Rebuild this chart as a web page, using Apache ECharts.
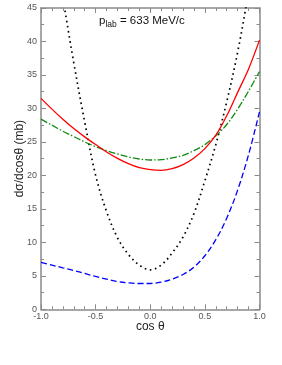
<!DOCTYPE html>
<html>
<head>
<meta charset="utf-8">
<script src="https://cdn.jsdelivr.net/npm/echarts@6/dist/echarts.min.js"></script>
<style>
html,body{margin:0;padding:0;background:#fff;}
#chart{width:282px;height:365px;}
</style>
</head>
<body>
<div id="chart"></div>
<script>
var cosTheta = [-1.0,-0.9,-0.8,-0.7,-0.6,-0.5,-0.4,-0.3,-0.2,-0.1,0.0,0.1,0.2,0.3,0.4,0.5,0.6,0.7,0.8,0.9,1.0];
var redSolid   = [31.5,29.9,28.4,27.0,25.75,24.6,23.5,22.55,21.75,21.15,20.85,20.75,21.0,21.6,22.6,24.0,26.0,28.9,32.4,35.9,40.2];
var greenDashDot = [28.4,27.5,26.6,25.8,25.0,24.3,23.7,23.2,22.75,22.45,22.3,22.35,22.6,23.0,23.7,24.6,25.9,27.6,29.9,32.6,35.5];
var blackDotted = [70,56,46.5,36.8,28.0,20.0,14.6,10.7,8.2,6.6,5.9,6.6,8.4,10.8,14.3,19.2,24.6,31.0,38.4,47.5,58];
var blueDashed = [7.0,6.6,6.2,5.8,5.35,4.9,4.5,4.15,3.95,3.85,3.85,4.05,4.5,5.2,6.3,8.0,10.4,13.6,17.8,23.1,29.5];
var xTicks = [-1.0,-0.5,0.0,0.5,1.0];
var yTicks = [0,5,10,15,20,25,30,35,40,45];

function pairs(vals){ return cosTheta.map(function(c,i){ return [c, vals[i]]; }); }

var axisColor = '#8a8a8a';
var labelColor = '#555';
var font = 'Liberation Sans, Arial, sans-serif';

function xAx(pos, showLabel){
  return {
    type:'value', position:pos, min:-1, max:1, interval:0.5,
    axisLine:{show:true, onZero:false, lineStyle:{color:axisColor, width:1.5}},
    axisTick:{show:true, inside:true, length:5, lineStyle:{color:axisColor}},
    minorTick:{show:true, splitNumber:5, length:3, lineStyle:{color:axisColor}},
    splitLine:{show:false},
    axisLabel:{show:showLabel, color:labelColor, fontSize:9, fontFamily:font, margin:3,
      formatter:function(v){ return v.toFixed(1); }},
    name: showLabel ? 'cos θ' : '', nameLocation:'middle', nameGap:11, nameMoveOverlap:false,
    nameTextStyle:{color:'#222', fontSize:12, fontFamily:font}
  };
}
function yAx(pos, showLabel){
  return {
    type:'value', position:pos, min:0, max:45, interval:5,
    axisLine:{show:true, onZero:false, lineStyle:{color:axisColor, width:1.5}},
    axisTick:{show:true, inside:true, length:5, lineStyle:{color:axisColor}},
    minorTick:{show:true, splitNumber:2, length:3, lineStyle:{color:axisColor}},
    splitLine:{show:false},
    axisLabel:{show:showLabel, color:labelColor, fontSize:9, fontFamily:font, margin:4},
    name: showLabel ? 'dσ/dcosθ (mb)' : '', nameLocation:'middle', nameGap:15, nameRotate:90, nameMoveOverlap:false,
    nameTextStyle:{color:'#222', fontSize:12, fontFamily:font}
  };
}

var chart = echarts.init(document.getElementById('chart'), null, {renderer:'canvas'});
chart.setOption({
  backgroundColor:'#fff',
  animation:false,
  grid:{left:41, right:22.5, top:8, bottom:55.7, containLabel:false},
  xAxis:[xAx('bottom', true), xAx('top', false)],
  yAxis:[yAx('left', true), yAx('right', false)],
  graphic:[{
    type:'text', left:99, top:15,
    style:{
      text:'{a|p}{b|lab}{a| = 633 MeV/c}',
      rich:{
        a:{fontSize:11.5, fontFamily:font, fill:'#111'},
        b:{fontSize:8.5, fontFamily:font, fill:'#111', padding:[7,0,0,0]}
      }
    }
  }],
  series:[
    {type:'line', name:'black', data:pairs(blackDotted), smooth:0.35, showSymbol:false, clip:true,
      lineStyle:{color:'#000', width:1.7, type:[1.6,3.6], cap:'butt'}},
    {type:'line', name:'blue', data:pairs(blueDashed), smooth:0.35, showSymbol:false, clip:true,
      lineStyle:{color:'#0000ff', width:1.3, type:[6,3]}},
    {type:'line', name:'green', data:pairs(greenDashDot), smooth:0.35, showSymbol:false, clip:true,
      lineStyle:{color:'#108a10', width:1.3, type:[7,2,1.5,2]}},
    {type:'line', name:'red', data:pairs(redSolid), smooth:0.35, showSymbol:false, clip:true,
      lineStyle:{color:'#ff0000', width:1.3}}
  ]
});
</script>
</body>
</html>
